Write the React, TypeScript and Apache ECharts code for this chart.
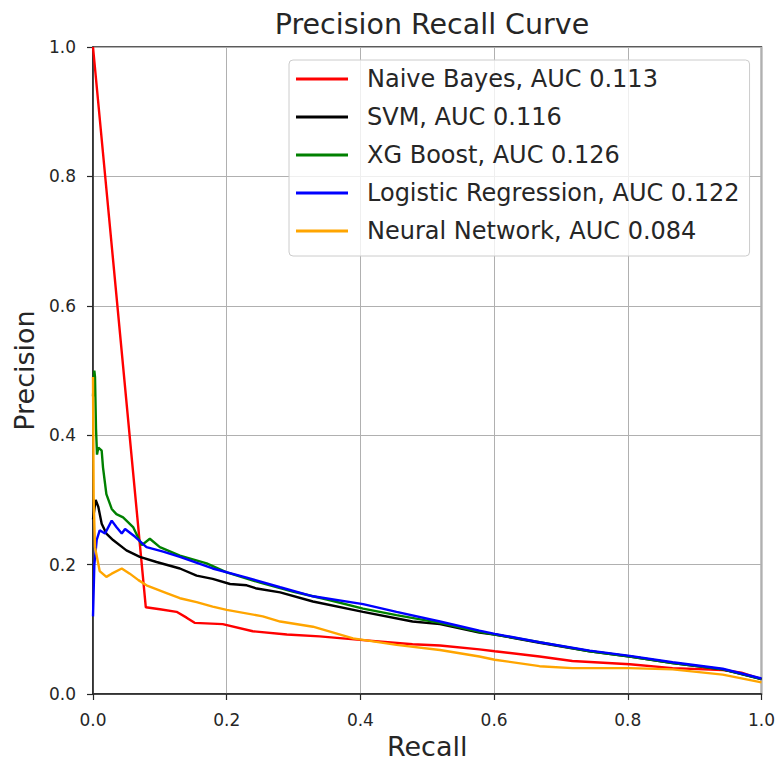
import React, { useEffect, useRef } from "react";
import * as echarts from "echarts";

const seriesNames = [
  "Naive Bayes, AUC 0.113",
  "SVM, AUC 0.116",
  "XG Boost, AUC 0.126",
  "Logistic Regression, AUC 0.122",
  "Neural Network, AUC 0.084",
];
const seriesColors = ["#ff0000", "#000000", "#008000", "#0000ff", "#ffa500"];

const recallNB = [0, 0.079, 0.1, 0.125, 0.14, 0.152, 0.194, 0.239, 0.29, 0.339, 0.395, 0.478, 0.519, 0.578, 0.601, 0.668, 0.717, 0.803, 0.867, 0.942, 0.97, 1.0];
const precisionNB = [1.0, 0.134, 0.131, 0.127, 0.118, 0.11, 0.108, 0.097, 0.092, 0.089, 0.084, 0.077, 0.075, 0.069, 0.066, 0.058, 0.051, 0.046, 0.04, 0.037, 0.033, 0.023];

const recallSVM = [0, 0.004, 0.008, 0.013, 0.02, 0.025, 0.03, 0.05, 0.07, 0.095, 0.13, 0.155, 0.179, 0.205, 0.23, 0.245, 0.28, 0.329, 0.404, 0.478, 0.519, 0.578, 0.601, 0.668, 0.743, 0.803, 0.867, 0.942, 1.0];
const precisionSVM = [0.27, 0.3, 0.289, 0.263, 0.248, 0.243, 0.238, 0.222, 0.212, 0.204, 0.194, 0.183, 0.178, 0.17, 0.168, 0.163, 0.157, 0.143, 0.127, 0.112, 0.108, 0.095, 0.092, 0.079, 0.066, 0.058, 0.048, 0.038, 0.023];

const recallXGB = [0, 0.002, 0.003, 0.0045, 0.006, 0.008, 0.013, 0.015, 0.02, 0.028, 0.035, 0.045, 0.06, 0.073, 0.085, 0.1, 0.13, 0.17, 0.2, 0.25, 0.3, 0.35, 0.404, 0.454, 0.519, 0.578, 0.601, 0.668, 0.743, 0.803, 0.867, 0.942, 1.0];
const precisionXGB = [0.46, 0.5, 0.49, 0.41, 0.37, 0.381, 0.376, 0.35, 0.309, 0.286, 0.278, 0.273, 0.258, 0.23, 0.24, 0.227, 0.214, 0.202, 0.188, 0.172, 0.158, 0.146, 0.132, 0.122, 0.11, 0.096, 0.092, 0.08, 0.066, 0.058, 0.048, 0.038, 0.023];

const recallLR = [0, 0.002, 0.0055, 0.01, 0.018, 0.028, 0.035, 0.043, 0.048, 0.063, 0.08, 0.105, 0.13, 0.179, 0.23, 0.28, 0.329, 0.404, 0.454, 0.519, 0.578, 0.601, 0.668, 0.743, 0.803, 0.867, 0.942, 1.0];
const precisionLR = [0.12, 0.2, 0.238, 0.253, 0.248, 0.268, 0.258, 0.248, 0.255, 0.243, 0.227, 0.22, 0.212, 0.194, 0.18, 0.165, 0.151, 0.139, 0.127, 0.112, 0.098, 0.093, 0.08, 0.067, 0.059, 0.049, 0.039, 0.024];

const recallNN = [0, 0.001, 0.003, 0.01, 0.02, 0.028, 0.043, 0.055, 0.068, 0.08, 0.11, 0.13, 0.155, 0.179, 0.2, 0.254, 0.28, 0.329, 0.389, 0.454, 0.519, 0.578, 0.601, 0.668, 0.717, 0.803, 0.867, 0.942, 1.0];
const precisionNN = [0.49, 0.3, 0.227, 0.19, 0.181, 0.186, 0.194, 0.186, 0.176, 0.168, 0.156, 0.148, 0.142, 0.135, 0.13, 0.12, 0.112, 0.104, 0.086, 0.076, 0.068, 0.058, 0.053, 0.043, 0.04, 0.04, 0.038, 0.03, 0.018];

const allRecall = [recallNB, recallSVM, recallXGB, recallLR, recallNN];
const allPrecision = [precisionNB, precisionSVM, precisionXGB, precisionLR, precisionNN];

const axisTicks = [0, 0.2, 0.4, 0.6, 0.8, 1.0];

const FONT = "DejaVu Sans";
const TEXT = "#262626";

export default function App() {
  const ref = useRef<HTMLDivElement>(null);
  useEffect(() => {
    if (!ref.current) return;
    const chart = echarts.init(ref.current, undefined, { renderer: "svg" });
    const series = seriesNames.map((name, i) => ({
      name,
      type: "line",
      data: allRecall[i].map((r, j) => [r, allPrecision[i][j]]),
      showSymbol: false,
      symbol: "none",
      lineStyle: { color: seriesColors[i], width: 2.4 },
      itemStyle: { color: seriesColors[i] },
      emphasis: { disabled: true },
    }));
    const axisCommon = {
      type: "value",
      min: axisTicks[0],
      max: axisTicks[axisTicks.length - 1],
      interval: 0.2,
      nameLocation: "middle",
      nameTextStyle: { fontFamily: FONT, fontSize: 27, color: TEXT },
      axisLine: { show: true, lineStyle: { color: TEXT, width: 1.5 } },
      axisTick: { show: true, length: 6, lineStyle: { color: TEXT, width: 1.2 } },
      axisLabel: {
        fontFamily: FONT,
        fontSize: 17,
        color: TEXT,
        margin: 17,
        formatter: (v: number) => v.toFixed(1),
      },
      splitLine: { show: true, lineStyle: { color: "#b0b0b0", width: 1 } },
    };
    chart.setOption({
      animation: false,
      backgroundColor: "#ffffff",
      title: {
        text: "Precision Recall Curve",
        left: 427,
        textAlign: "center",
        top: 5,
        textStyle: { fontFamily: FONT, fontSize: 28.5, fontWeight: "normal", color: TEXT },
      },
      grid: {
        left: 93,
        right: 16,
        top: 47,
        bottom: 67,
        show: true,
        borderColor: TEXT,
        borderWidth: 1.5,
        backgroundColor: "transparent",
      },
      legend: {
        orient: "vertical",
        left: 289,
        top: 60,
        padding: [6, 10, 12, 7],
        itemGap: 12,
        itemWidth: 52,
        itemHeight: 3,
        icon: "rect",
        backgroundColor: "rgba(255,255,255,0.8)",
        borderColor: "#cccccc",
        borderWidth: 1,
        borderRadius: 4,
        data: seriesNames,
        textStyle: {
          fontFamily: FONT,
          fontSize: 24,
          color: TEXT,
          lineHeight: 26,
          padding: [0, 0, 0, 14],
        },
      },
      xAxis: { ...axisCommon, name: "Recall", nameGap: 39 },
      yAxis: { ...axisCommon, name: "Precision", nameGap: 50 },
      series,
    });
    return () => chart.dispose();
  }, []);
  return (
    <div
      ref={ref}
      style={{ position: "fixed", left: 0, top: 0, width: 778, height: 765, background: "#fff" }}
    />
  );
}
